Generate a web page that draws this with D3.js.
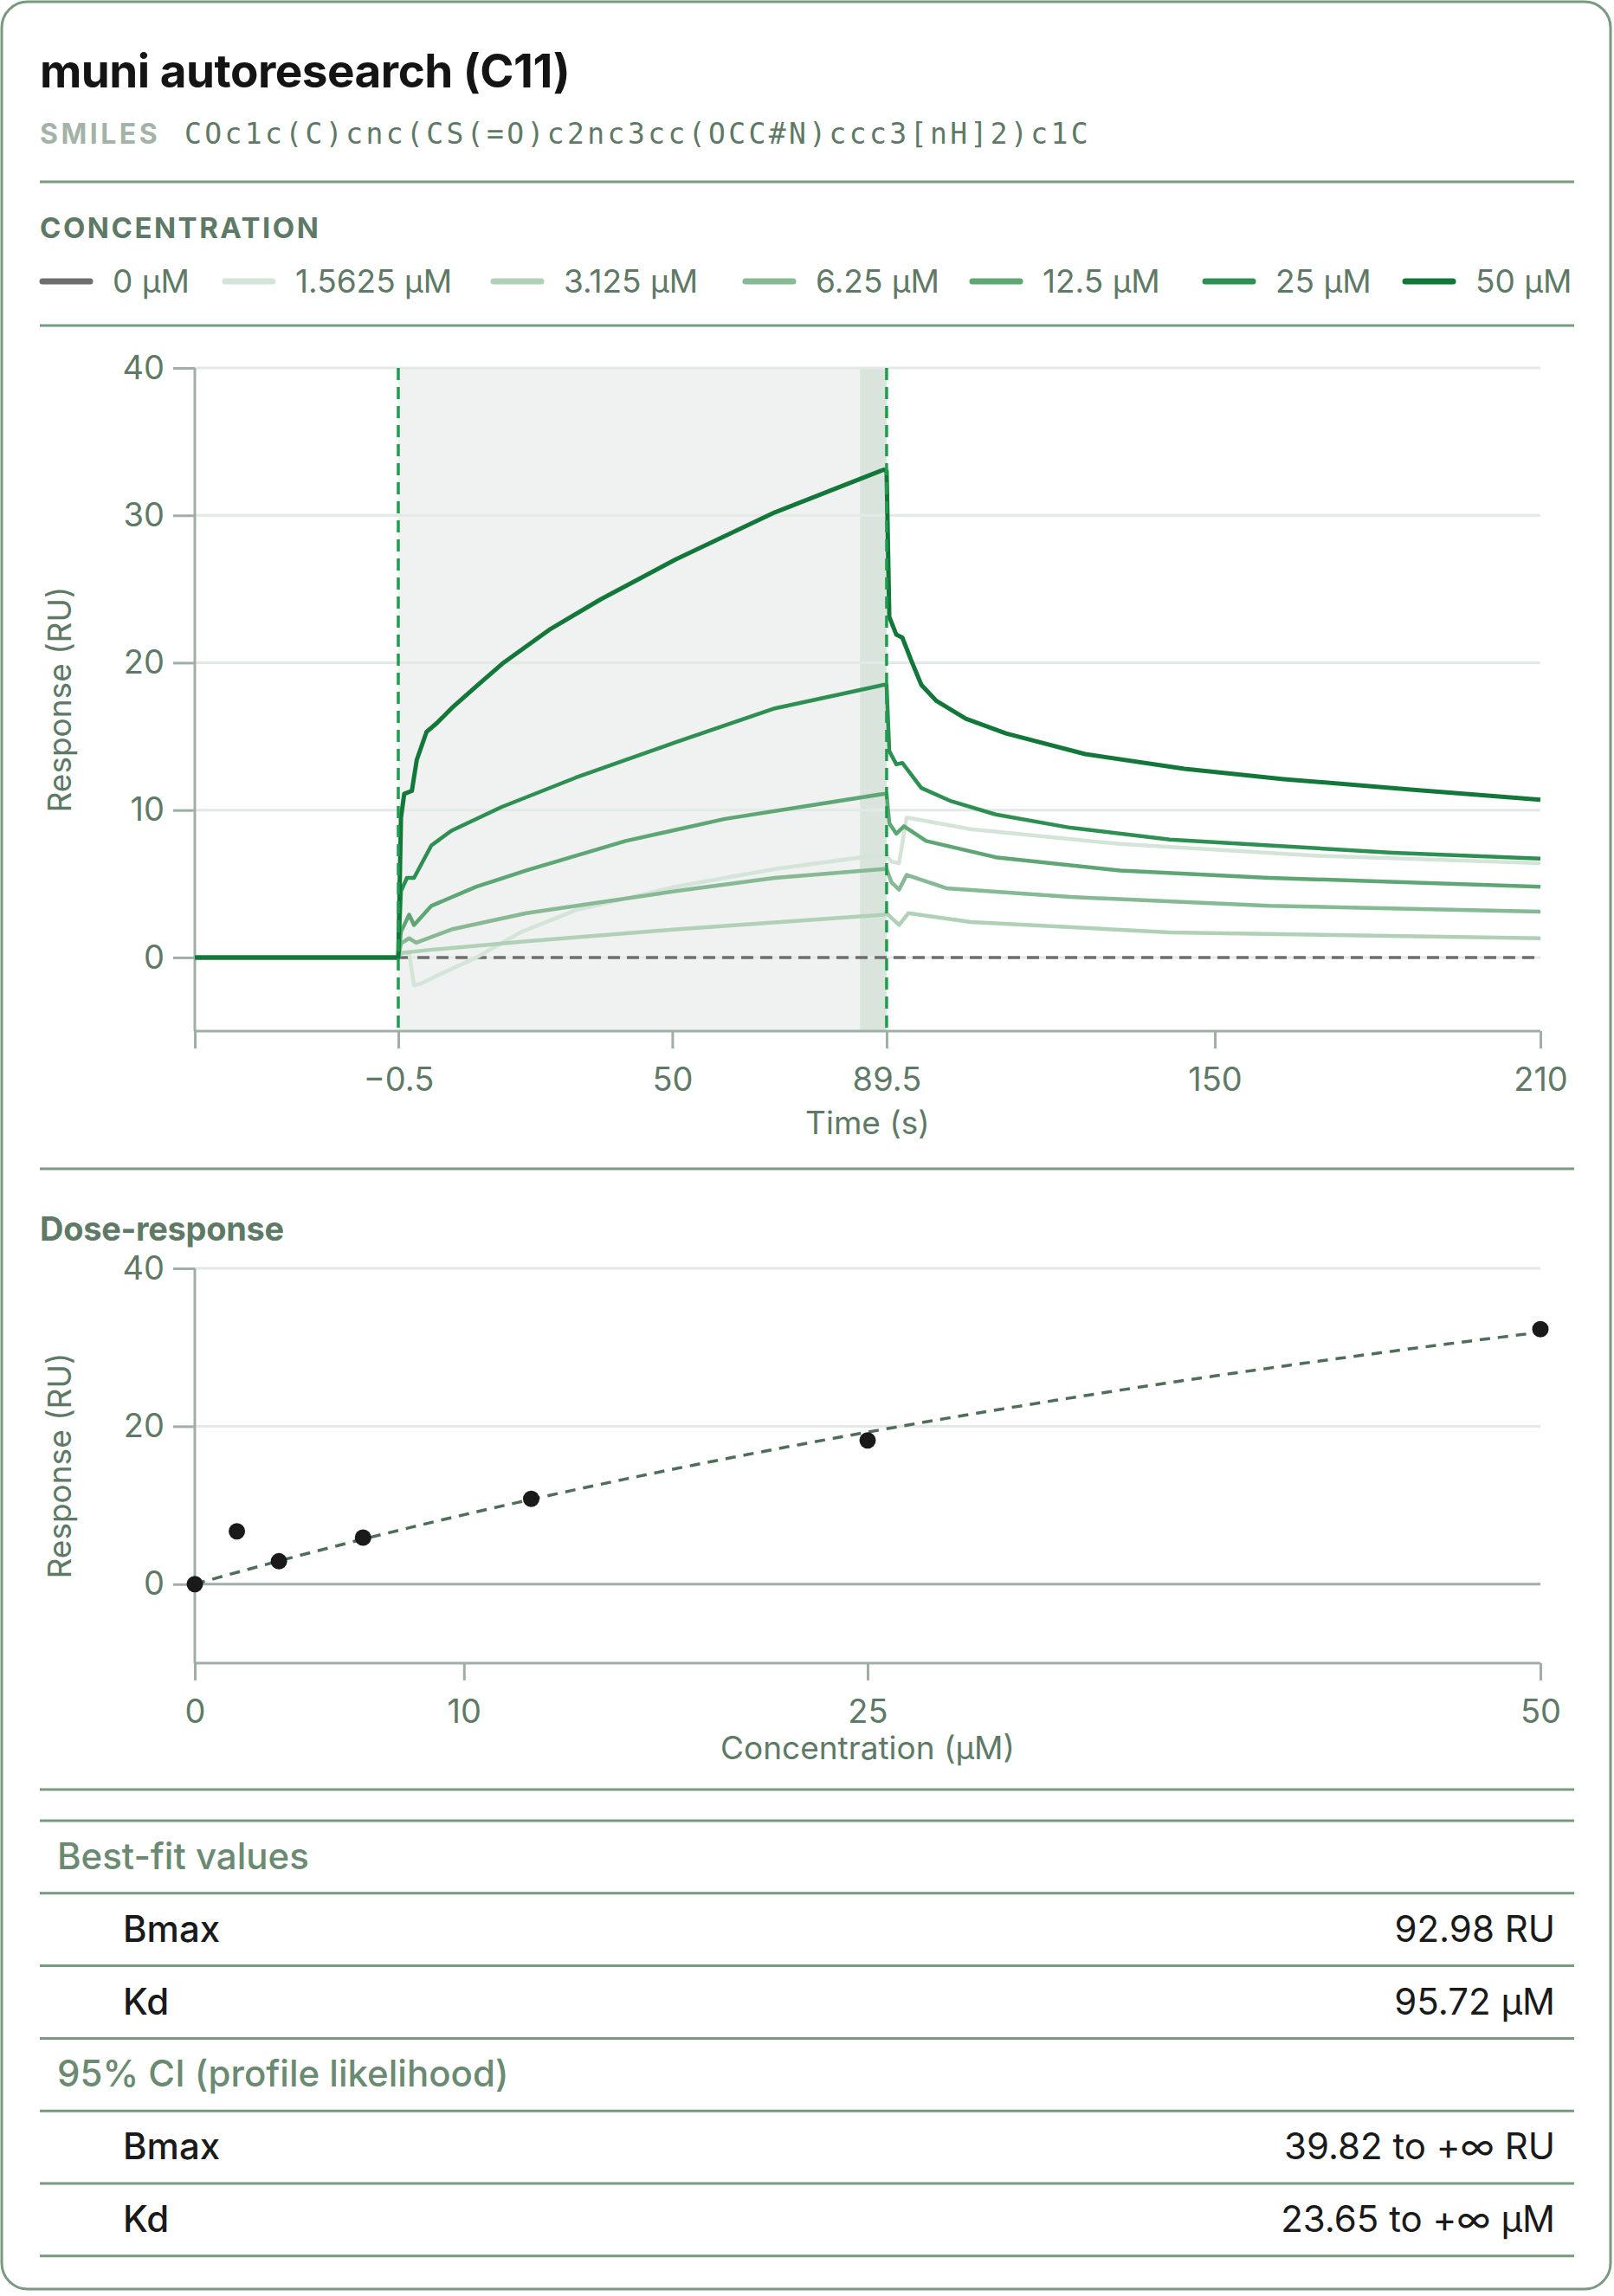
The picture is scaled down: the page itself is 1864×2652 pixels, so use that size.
<!DOCTYPE html>
<html><head><meta charset="utf-8">
<script src="https://cdn.jsdelivr.net/npm/d3@7"></script>
<style>body{margin:0;background:#fff}svg{display:block;font-family:Inter,"Noto Sans",sans-serif}</style>
</head><body><svg id="c" width="1864" height="2652"></svg>
<script>
// legend / concentrations
var concLabels=["0 µM","1.5625 µM","3.125 µM","6.25 µM","12.5 µM","25 µM","50 µM"]
var concColors=["#6e6e6e","#d4e4d8","#b0d0b8","#86b994","#5ea674","#2e8f52","#13773a"]
var legendX=[46,257,567,858,1120,1389,1620]

// sensorgram traces: [time s, response RU]
var trace0=[[-0.5,0],[210,0]]
var trace1=[[-38,0],[-0.5,0],[0,0.3],[1.5,0.3],[2.4,-1.9],[3.8,-1.75],[8,-1.0],[13.9,0],[22,1.7],[32.2,3.2],[50.6,4.8],[68.9,6.0],[89,7.0],[89.5,6.9],[90.4,6.5],[91.8,6.4],[93.2,9.5],[105,8.7],[132.5,7.7],[169,6.9],[210,6.4]]
var trace2=[[-38,0],[-0.5,0],[0,0.3],[5,0.5],[23.1,1.1],[50.6,1.9],[89,2.9],[89.5,3.0],[91.8,2.2],[93.5,3.0],[105,2.4],[141.7,1.7],[210,1.3]]
var trace3=[[-38,0],[-0.5,0],[0,0.95],[1.5,1.3],[2.8,1.0],[9.3,1.9],[23.1,3.0],[50.6,4.5],[68.9,5.4],[89,6.0],[89.5,6.0],[90.4,5.1],[91.8,4.6],[93.2,5.6],[100.5,4.7],[123.4,4.1],[160,3.5],[210,3.1]]
var trace4=[[-38,0],[-0.5,0],[0,1.75],[1.5,2.9],[2.4,2.2],[5.6,3.5],[13.9,4.8],[23.1,5.9],[41.4,7.9],[59.7,9.4],[89,11.1],[89.5,11.1],[90,9.1],[91.3,8.4],[92.7,8.9],[96.8,7.9],[109.6,6.8],[132.5,5.9],[160,5.4],[210,4.8]]
var trace5=[[-38,0],[-0.5,0],[0,4.5],[1.1,5.4],[2.4,5.4],[5.6,7.6],[9.3,8.6],[18.5,10.2],[32.2,12.2],[50.6,14.6],[68.9,16.9],[89,18.5],[89.5,18.5],[90,14.0],[91.3,13.1],[92.4,13.2],[95.9,11.5],[101.4,10.6],[109.6,9.7],[123.4,8.8],[141.7,8.0],[160,7.6],[182.8,7.1],[210,6.7]]
var trace6=[[-38,0],[-0.5,0],[0,9.5],[0.6,11.1],[2,11.3],[2.9,13.4],[4.7,15.3],[6.6,15.9],[9.3,16.9],[13.9,18.4],[18.9,20],[27.6,22.3],[36.8,24.3],[50.6,27.0],[68.9,30.2],[89,33.1],[89.5,33.0],[90,23.1],[91.3,21.9],[92.4,21.7],[94.1,20.1],[95.9,18.5],[98.7,17.4],[104.1,16.2],[111.5,15.2],[126.1,13.8],[144.4,12.8],[162.7,12.1],[185.6,11.4],[210,10.7]]
var traces=[trace1,trace2,trace3,trace4,trace5,trace6]

var timeTicks=[-0.5,50,89.5,150,210]
var respTicks=[0,10,20,30,40]

// dose-response
var doseConc=[0,1.5625,3.125,6.25,12.5,25,50]
var doseResp=[0,6.7,2.9,5.9,10.8,18.2,32.3]
var bmax=92.98, kd=95.72
var doseTicksX=[0,10,25,50]
var doseTicksY=[0,20,40]

var tableRows=[["h","Best-fit values",""],["r","Bmax","92.98 RU"],["r","Kd","95.72 µM"],["h","95% CI (profile likelihood)",""],["r","Bmax","39.82 to +∞ RU"],["r","Kd","23.65 to +∞ µM"]]

var svg=d3.select("#c")
var green="#5e7a66", rule="#789a80", axisC="#a0afa5", gridC="#e3e9e5"

svg.append("rect").attr("x",2).attr("y",2).attr("width",1858).attr("height",2642).attr("rx",30)
  .attr("fill","none").attr("stroke",rule).attr("stroke-width",3)

svg.append("text").attr("x",46).attr("y",101).attr("font-size",53).attr("font-weight",700).attr("letter-spacing",-0.5).attr("fill","#141414").text("muni autoresearch (C11)")
svg.append("text").attr("x",46).attr("y",166).attr("font-size",32).attr("font-weight",700).attr("letter-spacing",3.5).attr("fill","#a3b3a7").text("SMILES")
svg.append("text").attr("x",213).attr("y",166).attr("font-size",33).attr("letter-spacing",3.4).attr("font-family","'DejaVu Sans Mono',monospace").attr("fill",green).text("COc1c(C)cnc(CS(=O)c2nc3cc(OCC#N)ccc3[nH]2)c1C")

function hline(y,x1,x2){svg.append("line").attr("x1",x1||46).attr("x2",x2||1818).attr("y1",y).attr("y2",y).attr("stroke",rule).attr("stroke-width",3)}
hline(210);hline(376);hline(1350)

svg.append("text").attr("x",46).attr("y",275).attr("font-size",33).attr("font-weight",700).attr("letter-spacing",2.5).attr("fill",green).text("CONCENTRATION")
var lg=svg.selectAll("g.lg").data(concLabels).enter().append("g").attr("transform",function(d,i){return "translate("+legendX[i]+",325)"})
lg.append("line").attr("x1",3).attr("x2",58).attr("stroke",function(d,i){return concColors[i]}).attr("stroke-width",7).attr("stroke-linecap","round")
lg.append("text").attr("x",84).attr("y",13).attr("font-size",37).attr("fill",green).text(function(d){return d})

// ---- sensorgram
var x=d3.scaleLinear().domain([-38,210]).range([225,1779])
var y=d3.scaleLinear().domain([-5,40]).range([1191,425])

svg.append("rect").attr("x",x(-0.5)).attr("width",x(89.5)-x(-0.5)).attr("y",y(40)).attr("height",y(-5)-y(40)).attr("fill","#eff2f0")
svg.append("rect").attr("x",x(84.6)).attr("width",x(89.5)-x(84.6)).attr("y",y(40)).attr("height",y(-5)-y(40)).attr("fill","#d9e4dc")
svg.selectAll("line.g1").data(respTicks).enter().append("line").attr("x1",225).attr("x2",1779).attr("y1",y).attr("y2",y).attr("stroke",gridC).attr("stroke-width",3)

var ya=svg.append("g").attr("transform","translate(225,0)").call(d3.axisLeft(y).tickValues(respTicks).tickSize(25).tickPadding(10))
var xa=svg.append("g").attr("transform","translate(0,1191)").call(d3.axisBottom(x).tickValues([-38].concat(timeTicks)).tickSize(20).tickPadding(22).tickFormat(function(d){return d==-38?"":(d<0?"\u2212"+(-d):d)}))
;[ya,xa].forEach(function(a){a.select(".domain").attr("stroke",axisC).attr("stroke-width",3)
  a.selectAll(".tick line").attr("stroke",axisC).attr("stroke-width",3)
  a.selectAll("text").attr("font-size",38).attr("fill",green).attr("font-family","Inter,sans-serif")})
ya.select(".domain").attr("d","M0,"+y(40)+"V"+y(-5))
xa.select(".domain").attr("d","M225,0H1779")

svg.append("text").attr("x",1002).attr("y",1310).attr("text-anchor","middle").attr("font-size",37).attr("fill",green).text("Time (s)")
svg.append("text").attr("transform","translate(82,808) rotate(-90)").attr("text-anchor","middle").attr("font-size",37).attr("fill",green).text("Response (RU)")

var line=d3.line().x(function(d){return x(d[0])}).y(function(d){return y(d[1])})
svg.append("path").attr("d",line(trace0)).attr("fill","none").attr("stroke",concColors[0]).attr("stroke-width",3.5).attr("stroke-dasharray","14,8")
traces.forEach(function(t,i){svg.append("path").attr("d",line(t)).attr("fill","none").attr("stroke",concColors[i+1]).attr("stroke-width",i==5?5:4.5).attr("stroke-linejoin","round")})
;[-0.5,89.5].forEach(function(t){svg.append("line").attr("x1",x(t)).attr("x2",x(t)).attr("y1",y(40)).attr("y2",y(-5)).attr("stroke","#1f9d4f").attr("stroke-width",3.5).attr("stroke-dasharray","14,8")})

// ---- dose-response
svg.append("text").attr("x",46).attr("y",1433).attr("font-size",38).attr("font-weight",700).attr("letter-spacing",-0.3).attr("fill",green).text("Dose-response")
var x2=d3.scaleLinear().domain([0,50]).range([225,1779])
var y2=d3.scaleLinear().domain([-10,40]).range([1921,1465])
svg.selectAll("line.g2").data(doseTicksY).enter().append("line").attr("x1",225).attr("x2",1779).attr("y1",y2).attr("y2",y2).attr("stroke",function(d){return d==0?axisC:gridC}).attr("stroke-width",3)
var ya2=svg.append("g").attr("transform","translate(225,0)").call(d3.axisLeft(y2).tickValues(doseTicksY).tickSize(25).tickPadding(10))
var xa2=svg.append("g").attr("transform","translate(0,1921)").call(d3.axisBottom(x2).tickValues(doseTicksX).tickSize(20).tickPadding(22))
;[ya2,xa2].forEach(function(a){a.select(".domain").attr("stroke",axisC).attr("stroke-width",3)
  a.selectAll(".tick line").attr("stroke",axisC).attr("stroke-width",3)
  a.selectAll("text").attr("font-size",38).attr("fill",green).attr("font-family","Inter,sans-serif")})
ya2.select(".domain").attr("d","M0,"+y2(40)+"V"+y2(-10))
xa2.select(".domain").attr("d","M225,0H1779")
svg.append("text").attr("x",1002).attr("y",2032).attr("text-anchor","middle").attr("font-size",37).attr("fill",green).text("Concentration (µM)")
svg.append("text").attr("transform","translate(82,1693) rotate(-90)").attr("text-anchor","middle").attr("font-size",37).attr("fill",green).text("Response (RU)")

var fitC=d3.range(0,50.01,0.5)
var fit=d3.line().x(function(c){return x2(c)}).y(function(c){return y2(bmax*c/(kd+c))})
svg.append("path").attr("d",fit(fitC)).attr("fill","none").attr("stroke","#4f6e5a").attr("stroke-width",3.5).attr("stroke-dasharray","12,9")
svg.selectAll("circle").data(doseConc).enter().append("circle").attr("cx",function(d){return x2(d)}).attr("cy",function(d,i){return y2(doseResp[i])}).attr("r",9.5).attr("fill","#1a1a1a")

// ---- table
hline(2067);hline(2103)
var rowTop=2103, rowH=83.8
tableRows.forEach(function(r,i){
  var yb=rowTop+rowH*(i+1)
  hline(yb)
  var ty=rowTop+rowH*i+rowH/2+14
  if(r[0]=="h"){svg.append("text").attr("x",66).attr("y",ty).attr("font-size",42).attr("font-weight",500).attr("fill","#6b8a72").text(r[1])}
  else{svg.append("text").attr("x",142).attr("y",ty).attr("font-size",42).attr("font-weight",500).attr("fill","#1a1a1a").text(r[1])
    svg.append("text").attr("x",1796).attr("y",ty).attr("text-anchor","end").attr("font-size",42).attr("fill","#1a1a1a").text(r[2])}
})
</script></body></html>
